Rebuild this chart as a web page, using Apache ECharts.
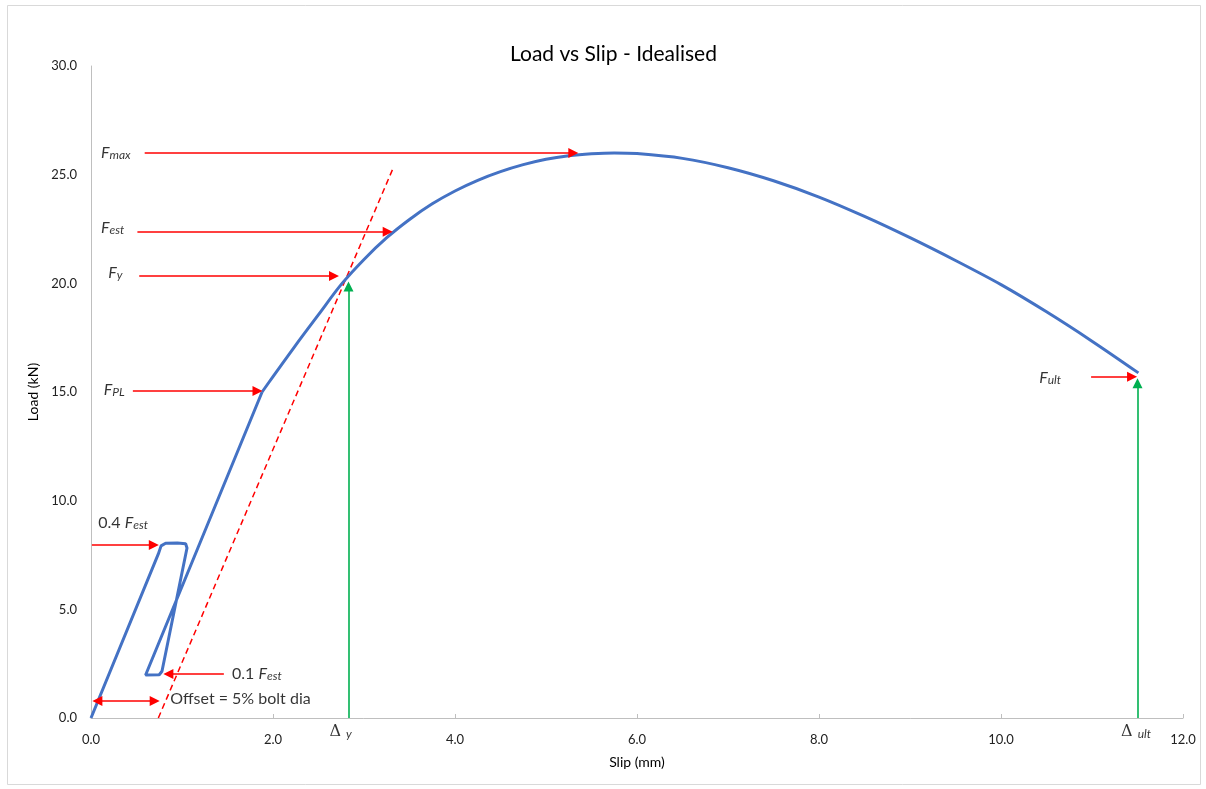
<!DOCTYPE html>
<html>
<head>
<meta charset="utf-8">
<script src="https://cdn.jsdelivr.net/npm/echarts@6/dist/echarts.min.js"></script>
<style>
html,body{margin:0;padding:0;background:#fff;}
#chart{width:1206px;height:789px;}
</style>
</head>
<body>
<div id="chart"></div>
<script>
// ---- Data ----
const xTicks = [0, 2, 4, 6, 8, 10, 12];
const yTicks = [0, 5, 10, 15, 20, 25, 30];

// Loading / unloading / reloading loop up to proportional limit (Slip mm, Load kN)
const loopSlip = [0, 0.74, 0.77, 0.82, 0.95, 1.04, 1.055, 0.78, 0.75, 0.60, 0.59, 1.88];
const loopLoad = [0, 7.55, 7.92, 8.04, 8.05, 8.02, 7.82, 2.15, 1.99, 1.98, 2.03, 15.0];

// Non-linear part from F_PL to F_ult
const curveSlip = [1.88, 2.0, 2.25, 2.5, 2.75, 3.0, 3.25, 3.5, 3.75, 4.0, 4.25, 4.5, 4.75, 5.0, 5.25, 5.5, 5.75, 6.0, 6.5, 7.0, 7.5, 8.0, 8.5, 9.0, 9.5, 10.0, 10.5, 11.0, 11.51];
const curveLoad = [15.0, 15.71, 17.16, 18.56, 19.95, 21.1, 22.1, 22.94, 23.66, 24.25, 24.74, 25.14, 25.46, 25.71, 25.87, 25.96, 26.0, 25.97, 25.75, 25.32, 24.72, 23.97, 23.08, 22.1, 21.05, 19.94, 18.69, 17.34, 15.88];

// Offset (5% bolt dia) line
const offsetSlip = [0.74, 3.32];
const offsetLoad = [0, 25.3];

// Red arrows: [x1, y1, x2, y2]
const redArrows = [
  [0.59, 26.0, 5.30, 26.0],
  [0.51, 22.37, 3.26, 22.37],
  [0.53, 20.34, 2.67, 20.34],
  [0.46, 15.05, 1.83, 15.05],
  [0.01, 7.96, 0.69, 7.96],
  [1.46, 2.02, 0.85, 2.02],
  [10.99, 15.7, 11.44, 15.7]
];
const offsetArrow = [0.07, 0.78, 0.70, 0.78];
// Green arrows
const greenArrows = [
  [2.83, 0, 2.83, 19.85],
  [11.5, 0, 11.5, 15.4]
];

// Annotation labels
const labelTexts = [
  '{f|F}{s|max}', '{f|F}{s|est}', '{f|F}{s|y}', '{f|F}{s|PL}',
  '{n|0.4 }{f|F}{s|est}', '{n|0.1 }{f|F}{s|est}', '{n|Offset = 5% bolt dia}', '{f|F}{s|ult}',
  '{d|Δ }{s|y}', '{d|Δ }{s|ult}'
];
const labelSlip = [0.11, 0.11, 0.19, 0.14, 0.08, 1.55, 0.87, 10.42, 2.62, 11.32];
const labelLoad = [26.0, 22.55, 20.48, 15.1, 8.97, 2.02, 0.87, 15.65, -0.64, -0.64];

// ---- Build ----
const FONT = 'Lato, "Open Sans", sans-serif';
const zip = (a, b) => a.map((v, i) => [v, b[i]]);

const chart = echarts.init(document.getElementById('chart'));
const arrowSeries = (arr, color, sym) => ({
  type: 'lines',
  coordinateSystem: 'cartesian2d',
  symbol: sym,
  symbolSize: 10,
  lineStyle: { color: color, width: 1.6, opacity: 1 },
  itemStyle: { color: color },
  silent: true,
  z: 5,
  data: arr.map(a => ({ coords: [[a[0], a[1]], [a[2], a[3]]] }))
});

const option = {
  backgroundColor: '#fff',
  animation: false,
  title: {
    text: 'Load vs Slip - Idealised',
    left: 510,
    top: 44,
    padding: 0,
    textStyle: { fontFamily: FONT, fontSize: 21, fontWeight: 'normal', color: '#000' }
  },
  graphic: [{
    type: 'rect',
    shape: { x: 7.5, y: 5.5, width: 1193, height: 779 },
    style: { fill: 'none', stroke: '#d9d9d9', lineWidth: 1 },
    silent: true
  }],
  grid: { left: 91, right: 23, top: 66, bottom: 71 },
  xAxis: {
    type: 'value', min: 0, max: 12, interval: 2,
    name: 'Slip (mm)', nameLocation: 'middle', nameGap: 37,
    nameTextStyle: { fontFamily: FONT, fontSize: 14, color: '#000' },
    axisLine: { lineStyle: { color: '#bfbfbf', width: 1 } },
    axisTick: { show: true, inside: true, length: 4, lineStyle: { color: '#bfbfbf' } },
    axisLabel: { fontFamily: FONT, fontSize: 13, color: '#222', margin: 15,
      formatter: v => xTicks.includes(v) ? v.toFixed(1) : '' },
    splitLine: { show: false }
  },
  yAxis: {
    type: 'value', min: 0, max: 30, interval: 5,
    name: 'Load (kN)', nameLocation: 'middle', nameGap: 46, nameRotate: 90,
    nameTextStyle: { fontFamily: FONT, fontSize: 14, color: '#000' },
    axisLine: { show: true, lineStyle: { color: '#bfbfbf', width: 1 } },
    axisTick: { show: false },
    axisLabel: { fontFamily: FONT, fontSize: 13, color: '#222', margin: 14,
      formatter: v => yTicks.includes(v) ? v.toFixed(1) : '' },
    splitLine: { show: false }
  },
  series: [
    {
      type: 'line', data: zip(loopSlip, loopLoad), showSymbol: false, smooth: false,
      lineStyle: { color: '#4472C4', width: 3 }, z: 4, silent: true
    },
    {
      type: 'line', data: zip(curveSlip, curveLoad), showSymbol: false, smooth: 0.3,
      lineStyle: { color: '#4472C4', width: 3 }, z: 4, silent: true
    },
    {
      type: 'line', data: zip(offsetSlip, offsetLoad), showSymbol: false,
      lineStyle: { color: '#FF0000', width: 1.5, type: [6, 4] }, z: 3, silent: true
    },
    arrowSeries(redArrows, '#FF0000', ['none', 'triangle']),
    arrowSeries([offsetArrow], '#FF0000', ['triangle', 'triangle']),
    arrowSeries(greenArrows, '#00B050', ['none', 'triangle']),
    {
      type: 'scatter', symbolSize: 0, clip: false, silent: true, z: 6,
      data: labelTexts.map((t, i) => ({ value: [labelSlip[i], labelLoad[i]] })),
      label: {
        show: true, position: 'inside', align: 'left', verticalAlign: 'middle',
        formatter: p => labelTexts[p.dataIndex],
        rich: {
          f: { fontFamily: FONT, fontSize: 16, fontStyle: 'italic', color: '#000' },
          s: { fontFamily: FONT, fontSize: 12, fontStyle: 'italic', color: '#000', padding: [5, 0, 0, 0] },
          n: { fontFamily: FONT, fontSize: 16, color: '#000' },
          d: { fontFamily: 'DejaVu Serif, serif', fontSize: 16, color: '#000' }
        }
      }
    }
  ]
};
chart.setOption(option);
</script>
</body>
</html>
